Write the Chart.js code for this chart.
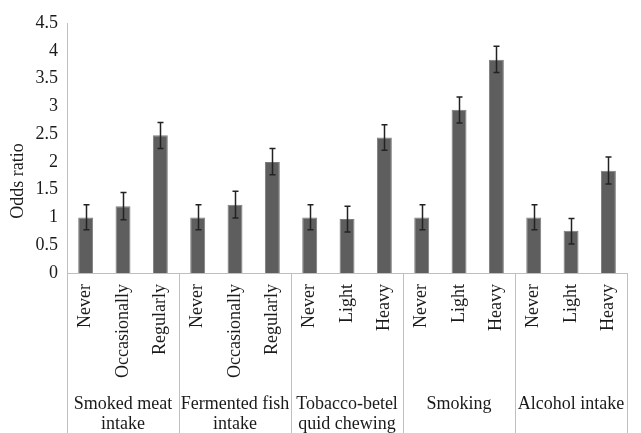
<!DOCTYPE html>
<html>
<head>
<meta charset="utf-8">
<script src="https://cdn.jsdelivr.net/npm/chart.js@4/dist/chart.umd.min.js"></script>
<style>
  html, body { margin: 0; padding: 0; background: #ffffff; }
  #wrap { width: 641px; height: 433px; position: relative; }
</style>
</head>
<body>
<div id="wrap"><canvas id="c" width="641" height="433"></canvas></div>
<script>
// Exposure levels (one bar each) and the exposure group they belong to
const levels = ['Never', 'Occasionally', 'Regularly',
                'Never', 'Occasionally', 'Regularly',
                'Never', 'Light', 'Heavy',
                'Never', 'Light', 'Heavy',
                'Never', 'Light', 'Heavy'];
const groups = [['Smoked meat', 'intake'], ['Fermented fish', 'intake'],
                ['Tobacco-betel', 'quid chewing'], ['Smoking'], ['Alcohol intake']];
const groupSize = 3;

// Odds ratios with their confidence limits
const oddsRatio = [1.00, 1.20, 2.48, 1.00, 1.23, 2.00, 1.00, 0.97, 2.44, 1.00, 2.94, 3.84, 1.00, 0.76, 1.84];
const ciLow     = [0.78, 0.96, 2.24, 0.78, 0.99, 1.77, 0.78, 0.74, 2.21, 0.78, 2.70, 3.61, 0.78, 0.52, 1.60];
const ciHigh    = [1.23, 1.45, 2.71, 1.23, 1.47, 2.24, 1.23, 1.20, 2.67, 1.23, 3.17, 4.08, 1.23, 0.98, 2.09];

// Y axis ticks
const yMin = 0, yMax = 4.5, yStep = 0.5;

const serif = '"Liberation Serif", "Times New Roman", serif';
const textColor = '#1a1a1a';
const lineGray = '#bfbfbf';

// Whiskers for the confidence intervals
const errorBars = {
  id: 'errorBars',
  afterDatasetsDraw(chart) {
    const ctx = chart.ctx;
    const meta = chart.getDatasetMeta(0);
    const y = chart.scales.y;
    ctx.save();
    ctx.strokeStyle = '#222222';
    ctx.lineWidth = 1.5;
    meta.data.forEach((bar, i) => {
      const x = Math.round(bar.x) + 0.5;
      const yl = y.getPixelForValue(ciLow[i]);
      const yh = y.getPixelForValue(ciHigh[i]);
      ctx.beginPath();
      ctx.moveTo(x, yl); ctx.lineTo(x, yh);
      ctx.moveTo(x - 3, yl); ctx.lineTo(x + 3, yl);
      ctx.moveTo(x - 3, yh); ctx.lineTo(x + 3, yh);
      ctx.stroke();
    });
    ctx.restore();
  }
};

// Group separators, group names and the y axis title
const groupAxis = {
  id: 'groupAxis',
  afterDraw(chart) {
    const ctx = chart.ctx;
    const area = chart.chartArea;
    const x = chart.scales.x;
    const n = levels.length;
    const step = (area.right - area.left) / n;
    ctx.save();
    ctx.strokeStyle = lineGray;
    ctx.lineWidth = 1;
    for (let g = 0; g <= groups.length; g++) {
      const px = Math.round(area.left + g * groupSize * step) + 0.5;
      ctx.beginPath();
      ctx.moveTo(px, area.bottom);
      ctx.lineTo(px, chart.height);
      ctx.stroke();
    }
    ctx.fillStyle = textColor;
    ctx.font = '18px ' + serif;
    ctx.textAlign = 'center';
    ctx.textBaseline = 'middle';
    groups.forEach((lines, g) => {
      const cx = (x.getPixelForValue(g * groupSize) + x.getPixelForValue(g * groupSize + groupSize - 1)) / 2;
      lines.forEach((t, k) => ctx.fillText(t, cx, 404 + k * 20));
    });
    ctx.translate(18, 181);
    ctx.rotate(-Math.PI / 2);
    ctx.fillText('Odds ratio', 0, 0);
    ctx.restore();
  }
};

new Chart(document.getElementById('c'), {
  type: 'bar',
  data: {
    labels: levels,
    datasets: [{
      data: oddsRatio,
      backgroundColor: '#5e5e5e',
      borderColor: '#7d7d7d',
      borderWidth: 1,
      barPercentage: 0.4,
      categoryPercentage: 1.0
    }]
  },
  options: {
    responsive: false,
    animation: false,
    devicePixelRatio: 1,
    layout: { padding: { top: 23, right: 0, bottom: 0, left: 0 } },
    plugins: { legend: { display: false }, tooltip: { enabled: false } },
    scales: {
      x: {
        grid: { display: false, drawTicks: false },
        border: { display: true, color: lineGray, width: 1 },
        ticks: {
          color: textColor,
          font: { family: serif, size: 18 },
          minRotation: 90, maxRotation: 90,
          autoSkip: false,
          padding: 11
        },
        afterFit(scale) { scale.height = 160; }
      },
      y: {
        min: yMin, max: yMax,
        grid: { display: false, drawTicks: false },
        border: { display: true, color: lineGray, width: 1 },
        ticks: {
          stepSize: yStep,
          color: textColor,
          font: { family: serif, size: 18 },
          padding: 9,
          callback: (v) => String(Math.round(v * 10) / 10)
        },
        afterFit(scale) { scale.width = 67; }
      }
    }
  },
  plugins: [errorBars, groupAxis]
});
</script>
</body>
</html>
